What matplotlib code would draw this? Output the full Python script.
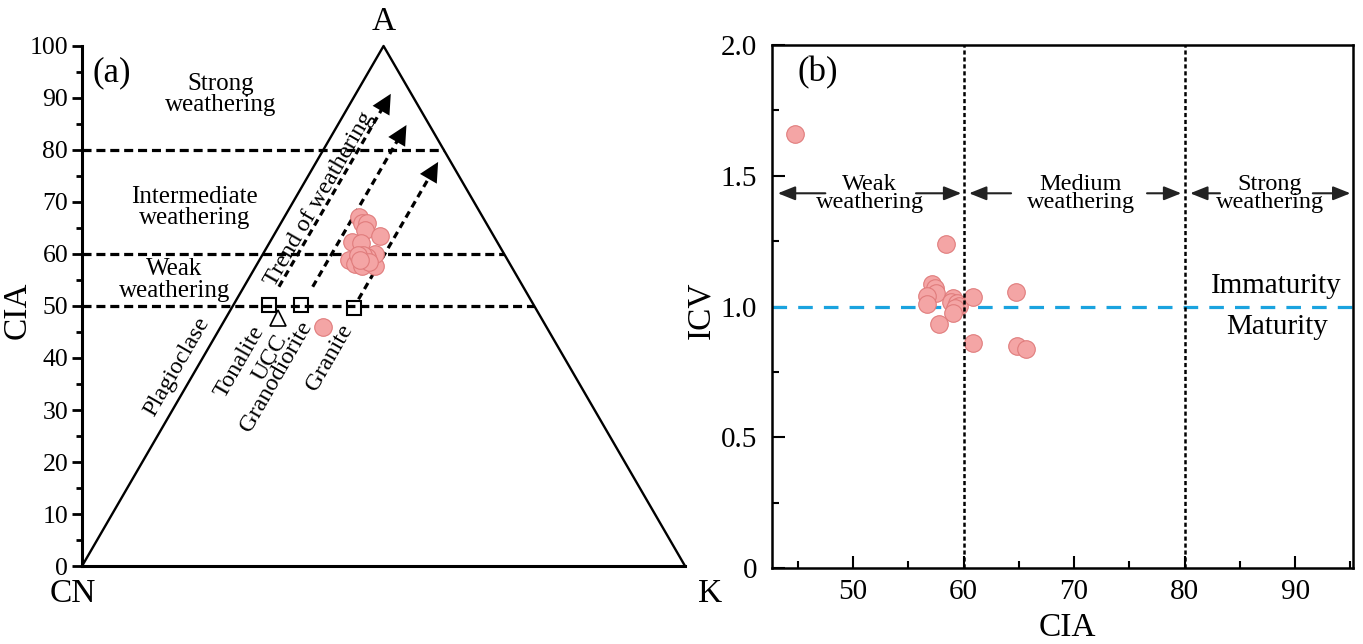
import matplotlib.pyplot as plt
from matplotlib.ticker import MultipleLocator, FuncFormatter

plt.rcParams['font.family'] = ['Liberation Serif', 'DejaVu Serif']
plt.rcParams['lines.scale_dashes'] = False

# A-CN-K compositions in % (CN is the remainder)
sample_A = [67.2, 65.9, 65.9, 64.7, 63.5, 62.4, 62.1, 58.8, 58.1, 57.6,
            57.7, 60.0, 59.5, 59.9, 59.8, 58.5, 58.8, 46.0]
sample_K = [12.4, 13.4, 14.3, 14.5, 17.6, 13.5, 15.2, 14.8, 16.2, 17.6,
            19.7, 18.5, 17.5, 16.7, 15.8, 18.3, 16.7, 16.9]

rock_names = ['Tonalite', 'Granodiorite', 'Granite']
rock_A = [50.2, 50.2, 49.6]
rock_K = [5.9, 11.2, 20.3]
ucc_A = 47.7
ucc_K = 8.6

# weathering trends run at constant K
trend_K = [5.8, 11.4, 20.2]
trend_A_start = [53.7, 53.7, 51.3]
trend_A_end = [90.8, 84.8, 77.7]

cia_limits = [50, 60, 80]

# CIA vs ICV
cia = [44.75, 58.4, 57.13, 57.43, 57.52, 56.74, 56.74, 59.03, 58.85, 59.4,
       59.63, 59.24, 59.09, 60.9, 64.72, 57.77, 60.84, 64.8, 65.65]
icv = [1.660, 1.239, 1.086, 1.070, 1.053, 1.040, 1.008, 1.031, 1.018, 1.012,
       1.002, 0.993, 0.974, 1.035, 1.055, 0.934, 0.859, 0.850, 0.839]

pink = '#F4A5A5'
pink_edge = '#E07C7C'


def tern(A, K):
    # ternary A-CN-K -> plot x, y (CN at left, K at right, A on top)
    return [k + a / 2 for a, k in zip(A, K)], list(A)


fig = plt.figure(figsize=(13.63, 6.44), dpi=100)

# ---------------- (a) A-CN-K ----------------
ax1 = fig.add_axes([0.0602, 0.1211, 0.4424, 0.8075])
ax1.set_xlim(0, 100)
ax1.set_ylim(0, 100)
ax1.spines['top'].set_visible(False)
ax1.spines['right'].set_visible(False)
ax1.spines['left'].set_linewidth(2.2)
ax1.spines['bottom'].set_linewidth(2.2)
ax1.set_xticks([])
ax1.yaxis.set_major_locator(MultipleLocator(10))
ax1.yaxis.set_minor_locator(MultipleLocator(5))
ax1.tick_params(axis='y', which='major', direction='out', length=7, width=2,
                labelsize=18.5, pad=3)
ax1.tick_params(axis='y', which='minor', direction='out', length=4, width=2)
ax1.set_ylabel('CIA', fontsize=24)
ax1.yaxis.set_label_coords(-0.082, 0.492)

ax1.plot([0, 50, 100], [0, 100, 0], color='k', lw=1.7, clip_on=False)

for c in cia_limits:
    ax1.plot([0, 100 - c / 2], [c, c], color='k', lw=2.3, dashes=(6.5, 3.5))

xs0, ys0 = tern(trend_A_start, trend_K)
xs1, ys1 = tern(trend_A_end, trend_K)
for x0, y0, x1, y1 in zip(xs0, ys0, xs1, ys1):
    ax1.plot([x0, x1 - (x1 - x0) * 0.06], [y0, y1 - (y1 - y0) * 0.06],
             color='k', lw=2.3, dashes=(5, 3.5))
    ax1.annotate('', xy=(x1, y1),
                 xytext=(x1 - (x1 - x0) * 0.2, y1 - (y1 - y0) * 0.2),
                 arrowprops=dict(arrowstyle='-|>,head_length=1.0,head_width=0.5',
                                 mutation_scale=14, color='k', lw=0,
                                 shrinkA=0, shrinkB=0))

rx, ry = tern(rock_A, rock_K)
ax1.plot(rx, ry, 's', ms=10.5, mfc='none', mec='k', mew=1.5, ls='none', zorder=4)
ux, uy = tern([ucc_A], [ucc_K])
ax1.plot(ux, uy, '^', ms=11, mfc='white', mec='k', mew=1.2, ls='none', zorder=4)

sx, sy = tern(sample_A, sample_K)
ax1.scatter(sx, sy, s=160, c=pink, edgecolors=pink_edge, linewidths=0.8, zorder=5)

ax1.text(50, 104.6, 'A', fontsize=24, ha='center', va='center')
ax1.text(-1.5, -5.4, 'CN', fontsize=24, ha='center', va='center')
ax1.text(104.1, -5.4, 'K', fontsize=24, ha='center', va='center')
ax1.text(5.0, 94.8, '(a)', fontsize=25, ha='center', va='center')

ax1.text(23.0, 90.6, 'Strong\nweathering', fontsize=18, ha='center', va='center',
         linespacing=0.95)
ax1.text(18.7, 69.0, 'Intermediate\nweathering', fontsize=18, ha='center',
         va='center', linespacing=0.95)
ax1.text(15.3, 55.0, 'Weak\nweathering', fontsize=18, ha='center', va='center',
         linespacing=0.95)

rot = dict(rotation=60, rotation_mode='anchor', ha='center', va='center', fontsize=17.5)
ax1.text(15.75, 38.3, 'Plagioclase', **rot)
ax1.text(26.2, 39.2, 'Tonalite', **rot)
ax1.text(31.2, 40.0, 'UCC', **rot)
ax1.text(32.2, 36.5, 'Granodiorite', **rot)
ax1.text(41.1, 40.0, 'Granite', **rot)
ax1.text(39.3, 70.6, 'Trend of weathering', **rot)

# ---------------- (b) CIA-ICV ----------------
ax2 = fig.add_axes([0.5666, 0.118, 0.4258, 0.8121])
ax2.set_xlim(42.7, 95.2)
ax2.set_ylim(0, 2)
for s in ax2.spines.values():
    s.set_linewidth(1.8)
ax2.xaxis.set_major_locator(MultipleLocator(10))
ax2.xaxis.set_minor_locator(MultipleLocator(5))
ax2.yaxis.set_major_locator(MultipleLocator(0.5))
ax2.yaxis.set_minor_locator(MultipleLocator(0.25))
ax2.yaxis.set_major_formatter(FuncFormatter(lambda v, p: '0' if v == 0 else f'{v:.1f}'))
ax2.tick_params(which='both', direction='in', top=False, right=False)
ax2.tick_params(which='major', length=9, width=1.5, labelsize=21)
ax2.tick_params(which='minor', length=5, width=1.5)
ax2.tick_params(axis='y', pad=11)
ax2.tick_params(axis='x', pad=8)
ax2.set_xlabel('CIA', fontsize=24)
ax2.set_ylabel('ICV', fontsize=24)
ax2.xaxis.set_label_coords(0.508, -0.086)
ax2.yaxis.set_label_coords(-0.096, 0.493)

ax2.axhline(1.0, color='#1AA3DF', lw=2.3, dashes=(10.5, 8), zorder=2)
for c in cia_limits[1:]:
    ax2.axvline(c, color='k', lw=1.8, dashes=(3, 2), zorder=6)

ax2.scatter(cia, icv, s=160, c=pink, edgecolors=pink_edge, linewidths=0.8, zorder=5)

ax2.text(46.8, 1.893, '(b)', fontsize=25, ha='center', va='center')
ax2.text(88.3, 1.08, 'Immaturity', fontsize=21, ha='center', va='center')
ax2.text(88.4, 0.92, 'Maturity', fontsize=21, ha='center', va='center')

arrow_y = 1.433
zones = [
    ('Weak\nweathering', 51.5, (47.5, 43.2), (55.7, 59.8)),
    ('Medium\nweathering', 70.6, (64.3, 60.5), (76.6, 79.7)),
    ('Strong\nweathering', 87.7, (83.2, 80.5), (91.6, 95.0)),
]
for label, xc, left, right in zones:
    ax2.text(xc, arrow_y, label, fontsize=17.5, ha='center', va='center',
             linespacing=0.8)
    for tail, head in (left, right):
        ax2.annotate('', xy=(head, arrow_y), xytext=(tail, arrow_y),
                     arrowprops=dict(arrowstyle='-|>,head_length=0.7,head_width=0.28',
                                     mutation_scale=15, color='#222222', lw=1.5,
                                     shrinkA=0, shrinkB=0))

fig.savefig('out.png', dpi=100)
